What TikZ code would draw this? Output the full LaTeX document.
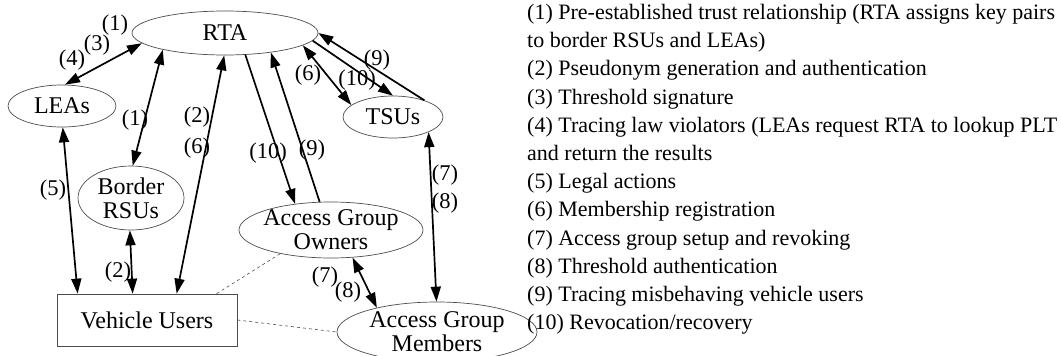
\documentclass[tikz,border=0pt]{standalone}
\usepackage{fontspec}
\setmainfont{Liberation Serif}
\usetikzlibrary{arrows.meta,shapes.geometric,calc}

\begin{document}
\begin{tikzpicture}[x=1pt,y=-1pt,
  every node/.style={font=\fontsize{22}{24}\selectfont},
  elli/.style={draw=black!70, line width=0.7pt, ellipse, inner sep=0pt},
  boxnode/.style={draw=black!70, line width=0.7pt, rectangle, inner sep=0pt,
                  font=\fontsize{24}{26}\selectfont},
  txt/.style={align=center, inner sep=0pt, font=\fontsize{24}{24}\selectfont},
  lbl/.style={inner sep=0pt, font=\fontsize{22.5}{24}\selectfont},
  tip/.style={},
  link/.style={line width=1.7pt, {Triangle[length=15pt,width=10pt]}-{Triangle[length=15pt,width=10pt]}},
  fwd/.style={line width=1.7pt, -{Triangle[length=15pt,width=10pt]}},
  dashlink/.style={dashed, draw=black!70, line width=0.6pt}
]
\useasboundingbox (0,0) rectangle (1061,356);

% entities
\node[elli, minimum width=186pt, minimum height=44pt] (rta) at (225,33) {};
\node[txt] at (rta) {RTA};
\node[elli, minimum width=108pt, minimum height=42pt] (lea) at (62,106) {};
\node[txt] at (lea) {LEAs};
\node[elli, minimum width=106pt, minimum height=64pt] (rsu) at (131,198) {};
\node[txt] at (rsu) {Border\\RSUs};
\node[elli, minimum width=100pt, minimum height=42pt] (tsu) at (393,117) {};
\node[txt] at (tsu) {TSUs};
\node[elli, minimum width=184pt, minimum height=56pt] (ago) at (331,230) {};
\node[txt] at (ago) {Access Group\\Owners};
\node[elli, minimum width=200pt, minimum height=60pt] (agm) at (437,332) {};
\node[txt] at (agm) {Access Group\\Members};
\node[boxnode, minimum width=180pt, minimum height=52pt] (vu) at (147,320) {Vehicle Users};

% interactions
\draw[link] (lea.82) -- (rta.187);
\draw[link] (rsu.87) -- (rta.195);
\draw[link] (lea.272) -- ($(vu.north west)+(21,0)$);
\draw[link] (rsu.268) -- ($(vu.north west)+(76,0)$);
\draw[link] ($(vu.north west)+(120,0)$) -- (rta.268);
\draw[fwd] (rta.313) -- (ago.144);
\draw[fwd] (ago.112) -- (rta.337);
\draw[link] (rta.351) -- (tsu.164);
\draw[fwd] (rta.355) -- (tsu.90);
\draw[fwd] (tsu.28) -- (rta.0);
\draw[link] (tsu.337) -- (agm.91);
\draw[link] (ago.308) -- (agm.158);
\draw[dashlink] ($(vu.north west)+(160,0)$) -- (ago.205);
\draw[dashlink] (vu.east) -- (agm.180);

% interaction labels
\node[lbl] at (115,25) {(1)};
\node[lbl] at (97,45) {(3)};
\node[lbl] at (72,60) {(4)};
\node[lbl] at (135,120) {(1)};
\node[lbl] at (197,117) {(2)};
\node[lbl] at (197,148) {(6)};
\node[lbl] at (268,153) {(10)};
\node[lbl] at (312,150) {(9)};
\node[lbl] at (308,75) {(6)};
\node[lbl] at (357,80) {(10)};
\node[lbl] at (377,60) {(9)};
\node[lbl] at (53,190) {(5)};
\node[lbl] at (118,272) {(2)};
\node[lbl] at (445,175) {(7)};
\node[lbl] at (445,203) {(8)};
\node[lbl] at (325,277) {(7)};
\node[lbl] at (348,292) {(8)};

% legend
\node[anchor=north west, align=left, inner sep=0pt,
      font=\fontsize{22}{28.2}\selectfont] (legend) at (527,4) {%
(1) Pre-established trust relationship (RTA assigns key pairs\\
to border RSUs and LEAs)\\
(2) Pseudonym generation and authentication\\
(3) Threshold signature\\
(4) Tracing law violators (LEAs request RTA to lookup PLT\\
and return the results\\
(5) Legal actions\\
(6) Membership registration\\
(7) Access group setup and revoking\\
(8) Threshold authentication\\
(9) Tracing misbehaving vehicle users\\
(10) Revocation/recovery};
\end{tikzpicture}
\end{document}
